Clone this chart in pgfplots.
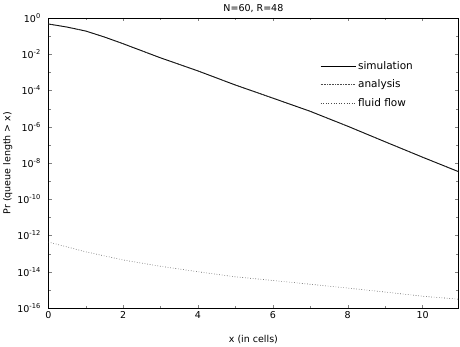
\documentclass[border=0pt]{standalone}
\usepackage{fontspec}
\setmainfont{DejaVu Sans}
\setsansfont{DejaVu Sans}
\usepackage{pgfplots}
\pgfplotsset{compat=1.18}
\begin{document}
\begin{tikzpicture}
\path[use as bounding box] (0pt,0pt) rectangle (460pt,346pt);
\begin{axis}[
  at={(48.3pt,38pt)}, anchor=south west,
  scale only axis, width=410.2pt, height=290pt,
  ymode=log, xmin=0, xmax=10.96, ymin=1e-16, ymax=1,
  font=\fontsize{9.5}{11}\selectfont,
  /pgf/number format/assume math mode=true,
  xtick={0,2,4,6,8,10}, minor xtick={1,3,5,7,9},
  xticklabels={0,2,4,6,8,10},
  ytick={1,1e-2,1e-4,1e-6,1e-8,1e-10,1e-12,1e-14,1e-16},
  yticklabels={10\textsuperscript{0},10\textsuperscript{-2},10\textsuperscript{-4},10\textsuperscript{-6},10\textsuperscript{-8},10\textsuperscript{-10},10\textsuperscript{-12},10\textsuperscript{-14},10\textsuperscript{-16}},
  minor ytick={1e-1,1e-3,1e-5,1e-7,1e-9,1e-11,1e-13,1e-15},
  tick align=inside, major tick length=3.5pt, minor tick length=2.5pt,
  yticklabel style={xshift=-4pt},
  axis line style={line width=0.9pt},
  title={N=60, R=48}, title style={yshift=-4pt},
  xlabel={x (in cells)}, xlabel style={yshift=-10pt},
  ylabel={Pr (queue length > x)}, ylabel style={yshift=-2pt},
  legend style={draw=none, fill=none, at={(0.655,0.865)}, anchor=north west,
    nodes={font=\fontsize{10.5}{12}\selectfont}, row sep=5pt},
  legend cell align=left,
  legend image code/.code={\draw[#1] (0pt,0pt) -- (35pt,0pt);},
]
\addplot[black, line width=0.9pt] coordinates {
(0,4.68e-1) (0.5,3.16e-1) (1,1.91e-1) (1.5,8.91e-2) (2,3.80e-2) (3,6.31e-3) (4,1.20e-3)
(5,2.00e-4) (6,3.80e-5) (7,7.08e-6) (8,1.07e-6) (9,1.48e-7) (10,2.09e-8) (11,3.09e-9)};
\addlegendentry{simulation}
\addplot[black!70, densely dotted, line width=0.6pt] coordinates {
(0,4.68e-1) (0.5,3.16e-1) (1,1.91e-1) (1.5,8.91e-2) (2,3.80e-2) (3,6.31e-3) (4,1.20e-3)
(5,2.00e-4) (6,3.80e-5) (7,7.08e-6) (8,1.07e-6) (9,1.48e-7) (10,2.09e-8) (11,3.09e-9)};
\addlegendentry{analysis}
\addplot[black!70, dotted, line width=0.6pt] coordinates {
(0,4.37e-13) (1,1.26e-13) (2,4.47e-14) (3,2.00e-14) (4,1.00e-14) (5,5.25e-15)
(6,3.31e-15) (7,2.04e-15) (8,1.26e-15) (9,7.59e-16) (10,4.47e-16) (11,3.02e-16)};
\addlegendentry{fluid flow}
\end{axis}
\end{tikzpicture}
\end{document}
